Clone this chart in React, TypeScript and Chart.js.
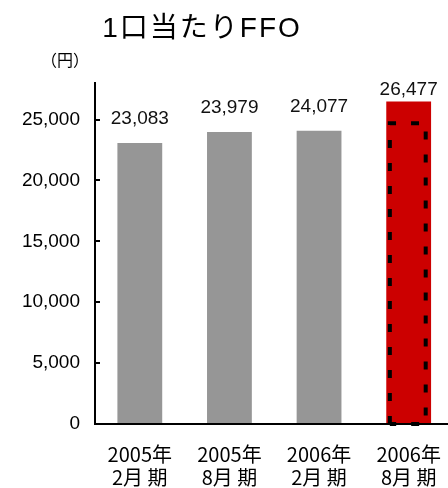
import React, { useEffect, useRef } from "react";
import { Chart, registerables } from "chart.js";

Chart.register(...registerables);

const categories: string[][] = [
  ["2005年", "2月 期"],
  ["2005年", "8月 期"],
  ["2006年", "2月 期"],
  ["2006年", "8月 期"],
];
const ffoValues: number[] = [23083, 23979, 24077, 26477];
const forecastValues: (number | null)[] = [null, null, null, 24700];
const barColors: string[] = ["#969696", "#969696", "#969696", "#CC0000"];
const yTickValues: number[] = [0, 5000, 10000, 15000, 20000, 25000];
const titleText = "1口当たりFFO";
const unitText = "（円）";

const fmt = (v: number) => v.toLocaleString("en-US");

const LATIN = '"Liberation Sans", Arial, "Noto Sans CJK JP", sans-serif';
const CJK = '"Noto Sans CJK JP", "Liberation Sans", sans-serif';

const overlayPlugin = {
  id: "overlay",
  afterDatasetsDraw(chart: any) {
    const ctx = chart.ctx as CanvasRenderingContext2D;
    const meta = chart.getDatasetMeta(0);
    const y = chart.scales.y;
    // dashed forecast outline
    forecastValues.forEach((v, i) => {
      if (v == null) return;
      const bar = meta.data[i] as any;
      const w = bar.width;
      const left = bar.x - w * 0.42;
      const right = bar.x + w * 0.38;
      const top = y.getPixelForValue(v);
      const bottom = y.getPixelForValue(0);
      ctx.save();
      ctx.strokeStyle = "#000";
      ctx.lineWidth = 4;
      ctx.setLineDash([8, 15]);
      ctx.beginPath();
      ctx.moveTo(left, bottom);
      ctx.lineTo(left, top);
      ctx.lineTo(right, top);
      ctx.lineTo(right, bottom);
      ctx.lineTo(left, bottom);
      ctx.stroke();
      ctx.restore();
    });
    // value labels
    ctx.save();
    ctx.font = `19px ${LATIN}`;
    ctx.fillStyle = "#111";
    ctx.textAlign = "center";
    ctx.textBaseline = "middle";
    ffoValues.forEach((v, i) => {
      const bar = meta.data[i] as any;
      const off = i === ffoValues.length - 1 ? 12 : 24;
      ctx.fillText(fmt(v), bar.x, bar.y - off);
    });
    ctx.restore();
  },
  afterDraw(chart: any) {
    const ctx = chart.ctx as CanvasRenderingContext2D;
    const y = chart.scales.y;
    const left = chart.chartArea.left;
    ctx.save();
    // inward tick marks
    ctx.strokeStyle = "#000";
    ctx.lineWidth = 2;
    yTickValues.forEach((t) => {
      if (t === 0) return;
      const py = Math.round(y.getPixelForValue(t));
      ctx.beginPath();
      ctx.moveTo(left, py);
      ctx.lineTo(left + 5, py);
      ctx.stroke();
    });
    // title
    ctx.fillStyle = "#000";
    ctx.textAlign = "center";
    ctx.textBaseline = "middle";
    ctx.font = `28px ${LATIN}`;
    (ctx as any).letterSpacing = "2px";
    ctx.fillText(titleText, 202, 29);
    (ctx as any).letterSpacing = "0px";
    // unit
    ctx.font = `16px ${CJK}`;
    ctx.fillText(unitText, 65, 60);
    ctx.restore();
  },
};

export default function App() {
  const ref = useRef<HTMLCanvasElement>(null);
  useEffect(() => {
    document.body.style.margin = "0";
    document.documentElement.style.overflow = "hidden";
    const chart = new Chart(ref.current!, {
      type: "bar",
      data: {
        labels: categories,
        datasets: [
          {
            data: ffoValues,
            backgroundColor: barColors,
            borderWidth: 0,
            categoryPercentage: 1,
            barPercentage: 0.5,
          },
        ],
      },
      options: {
        responsive: false,
        devicePixelRatio: 1,
        animation: false,
        layout: { padding: { top: 83, left: 0, right: 5, bottom: 0 } },
        plugins: {
          legend: { display: false },
          tooltip: { enabled: false },
          title: { display: false },
        },
        scales: {
          x: {
            type: "category",
            offset: true,
            grid: { display: false, drawTicks: false },
            border: { display: true, color: "#000", width: 2, z: 1 },
            ticks: {
              color: "#000",
              font: { family: CJK, size: 20, lineHeight: 1.15 },
              padding: 18.5,
              maxRotation: 0,
              autoSkip: false,
            },
            afterFit: (s: any) => {
              s.height = 64;
            },
          },
          y: {
            min: 0,
            max: 28000,
            grid: { display: false, drawTicks: false },
            border: { display: true, color: "#000", width: 2, z: 1 },
            ticks: {
              stepSize: 5000,
              color: "#000",
              font: { family: LATIN, size: 19 },
              padding: 15,
              callback: (v: any) => fmt(Number(v)),
            },
            afterBuildTicks: (s: any) => {
              s.ticks = yTickValues.map((v) => ({ value: v }));
            },
            afterFit: (s: any) => {
              s.width = 95;
            },
          },
        },
      },
      plugins: [overlayPlugin],
    });
    return () => chart.destroy();
  }, []);
  return (
    <div style={{ width: 448, height: 488, overflow: "hidden", position: "relative" }}>
      <canvas ref={ref} width={460} height={488} style={{ display: "block", width: 460, height: 488 }} />
    </div>
  );
}
